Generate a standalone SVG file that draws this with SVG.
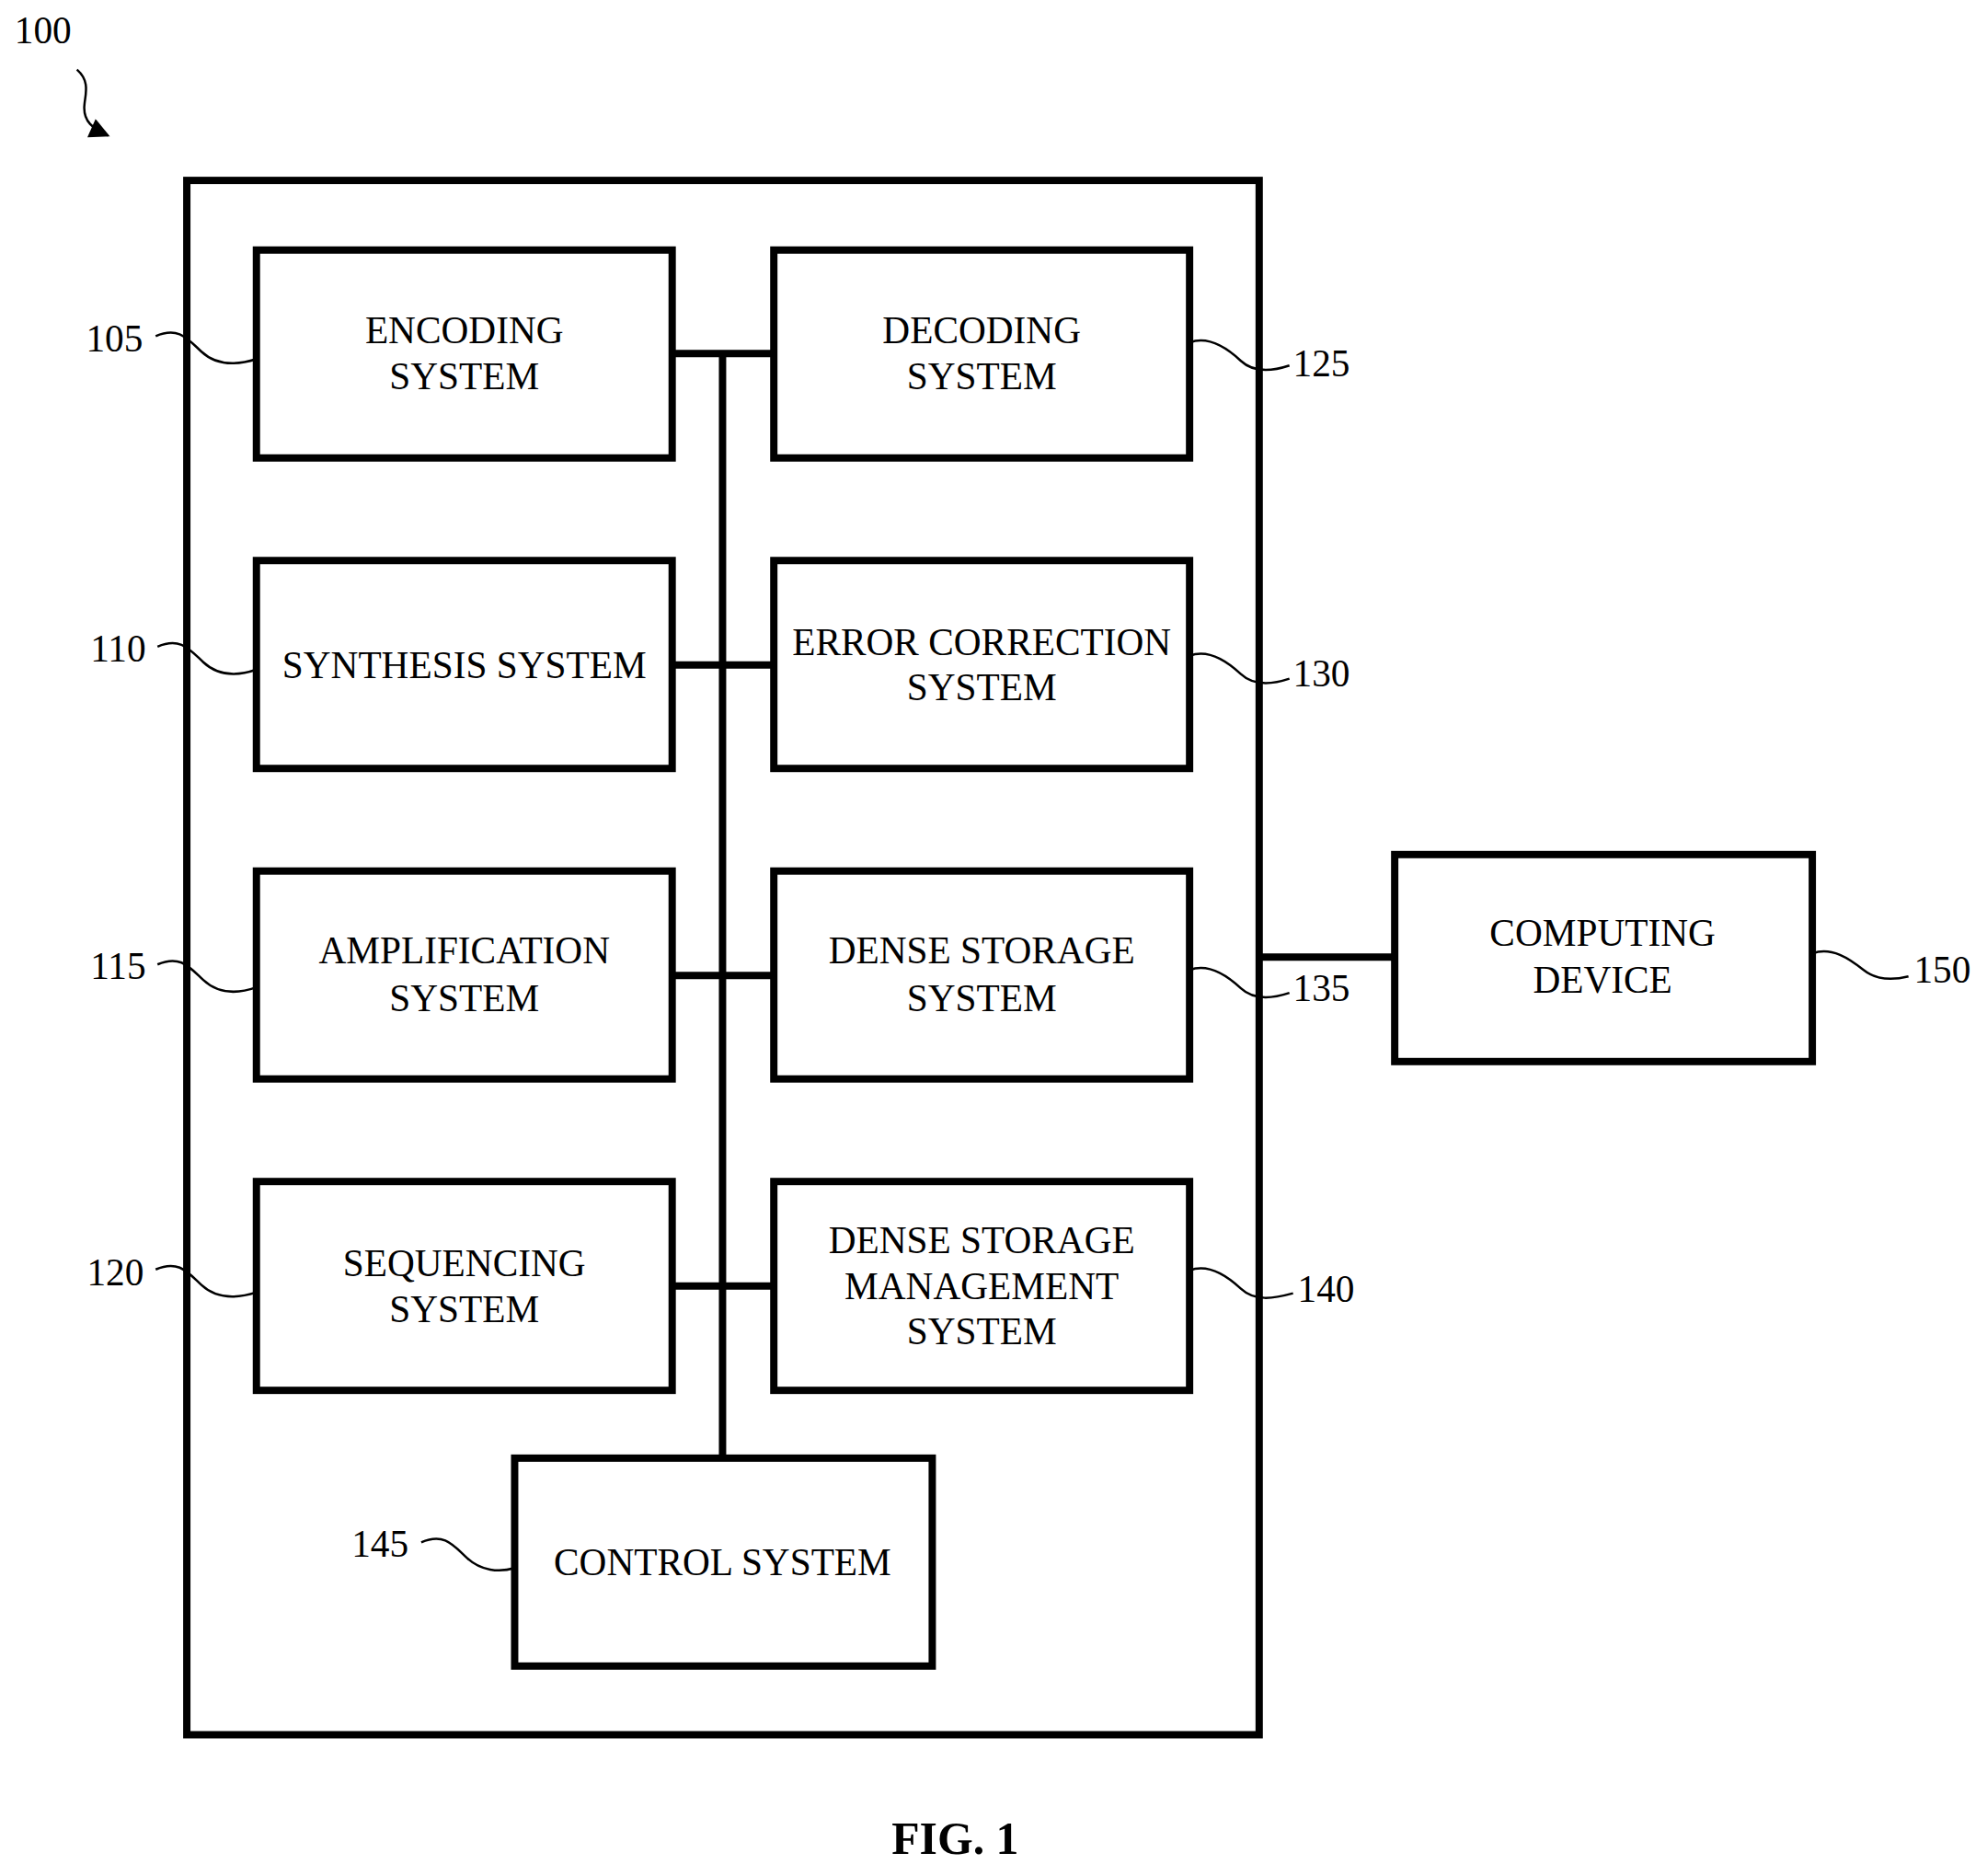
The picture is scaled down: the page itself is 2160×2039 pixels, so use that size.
<svg xmlns="http://www.w3.org/2000/svg" width="2160" height="2039" viewBox="0 0 2160 2039">
<style>
.b{fill:none;stroke:#000;stroke-width:8}
.c{fill:none;stroke:#000;stroke-width:8}
.l{fill:none;stroke:#000;stroke-width:2.5}
text{font-family:"Liberation Serif",serif;font-size:41.5px;fill:#000;text-anchor:middle;dominant-baseline:central}
</style>
<defs><marker id="ah" viewBox="0 0 10 10" refX="9" refY="5" markerWidth="30" markerHeight="22" markerUnits="userSpaceOnUse" orient="auto"><path d="M0,0L10,5L0,10z"/></marker></defs>
<rect x="0" y="0" width="2160" height="2039" fill="#fff"/>
<g transform="scale(0.9955)">
<g id="fig100"><text x="47" y="33">100</text>
<path class="l" d="M84,76 C100,90 92,105 92,118 C92,132 100,140 118,148" marker-end="url(#ah)"/></g>
<rect id="outer" class="b" x="204" y="197" width="1171" height="1697"/>
<g id="connectors">
<path class="c" d="M789,386V1592M734,386H845M734,726H845M734,1065H845M734,1404H845M1375,1045H1523"/>
</g>
<g id="n105"><rect class="b" x="280" y="273" width="454" height="227"/><text x="507" y="361">ENCODING</text><text x="507" y="411">SYSTEM</text><text x="125" y="370">105</text><path class="l" d="M170,367 C195,356 205,370 220,384 C235,398 255,400 280,392"/></g>
<g id="n110"><rect class="b" x="280" y="612" width="454" height="227"/><text x="507" y="726">SYNTHESIS SYSTEM</text><text x="129" y="708">110</text><path class="l" d="M172,706 C197,695 207,709 222,723 C237,737 257,739 280,731"/></g>
<g id="n115"><rect class="b" x="280" y="951" width="454" height="227"/><text x="507" y="1038">AMPLIFICATION</text><text x="507" y="1090">SYSTEM</text><text x="129" y="1055">115</text><path class="l" d="M172,1053 C197,1042 207,1056 222,1070 C237,1084 257,1086 280,1078"/></g>
<g id="n120"><rect class="b" x="280" y="1290" width="454" height="228"/><text x="507" y="1379">SEQUENCING</text><text x="507" y="1429">SYSTEM</text><text x="126" y="1389">120</text><path class="l" d="M170,1386 C195,1375 205,1389 220,1403 C235,1417 255,1419 280,1411"/></g>
<g id="n125"><rect class="b" x="845" y="273" width="454" height="227"/><text x="1072" y="361">DECODING</text><text x="1072" y="411">SYSTEM</text><text x="1443" y="397">125</text><path class="l" d="M1299,374 C1320,366 1340,380 1355,394 C1370,408 1390,405 1408,399"/></g>
<g id="n130"><rect class="b" x="845" y="612" width="454" height="227"/><text x="1072" y="701">ERROR CORRECTION</text><text x="1072" y="750">SYSTEM</text><text x="1443" y="735">130</text><path class="l" d="M1299,716 C1320,708 1340,722 1355,736 C1370,750 1390,747 1408,741"/></g>
<g id="n135"><rect class="b" x="845" y="951" width="454" height="227"/><text x="1072" y="1038">DENSE STORAGE</text><text x="1072" y="1090">SYSTEM</text><text x="1443" y="1079">135</text><path class="l" d="M1299,1059 C1320,1051 1340,1065 1355,1079 C1370,1093 1390,1090 1408,1084"/></g>
<g id="n140"><rect class="b" x="845" y="1290" width="454" height="228"/><text x="1072" y="1354">DENSE STORAGE</text><text x="1072" y="1404">MANAGEMENT</text><text x="1072" y="1454">SYSTEM</text><text x="1448" y="1407">140</text><path class="l" d="M1299,1387 C1320,1379 1340,1393 1355,1407 C1370,1421 1390,1418 1412,1412"/></g>
<g id="n145"><rect class="b" x="562" y="1592" width="456" height="227"/><text x="789" y="1706">CONTROL SYSTEM</text><text x="415" y="1686">145</text><path class="l" d="M460,1684 C485,1673 495,1687 510,1701 C525,1715 545,1717 562,1712"/></g>
<g id="n150"><rect class="b" x="1523" y="933" width="456" height="226"/><text x="1750" y="1019">COMPUTING</text><text x="1750" y="1070">DEVICE</text><text x="2121" y="1059">150</text><path class="l" d="M1979,1041 C2000,1033 2020,1047 2035,1059 C2050,1071 2068,1070 2084,1066"/></g>
<text x="1043" y="2008" style="font-weight:bold;font-size:50px">FIG. 1</text>
</g>
</svg>
